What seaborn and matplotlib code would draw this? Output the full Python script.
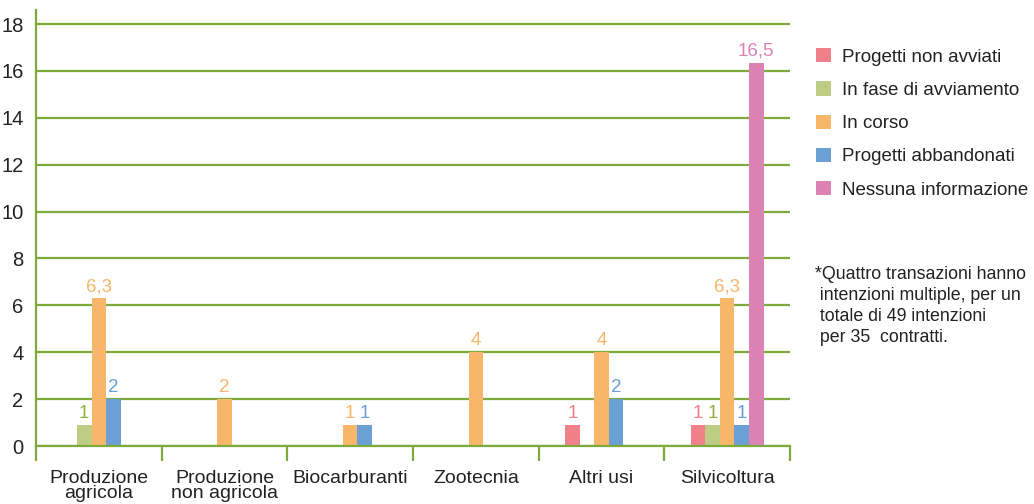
import matplotlib
matplotlib.use("Agg")
import matplotlib.pyplot as plt
import seaborn as sns
import pandas as pd
import numpy as np
from matplotlib.patches import Patch

# ---------------- data ----------------
categories = ["Produzione\nagricola", "Produzione\nnon agricola", "Biocarburanti",
              "Zootecnia", "Altri usi", "Silvicoltura"]
series = ["Progetti non avviati", "In fase di avviamento", "In corso",
          "Progetti abbandonati", "Nessuna informazione"]

# bar heights as drawn in the picture
non_avviati = [0, 0, 0, 0, 0.9, 0.9]
fase_avviamento = [0.9, 0, 0, 0, 0, 0.9]
in_corso = [6.3, 2, 0.9, 4, 4, 6.3]
abbandonati = [2, 0, 0.9, 0, 2, 0.9]
nessuna_info = [0, 0, 0, 0, 0, 16.35]

# printed value labels
lbl_non_avviati = ["", "", "", "", "1", "1"]
lbl_fase_avviamento = ["1", "", "", "", "", "1"]
lbl_in_corso = ["6,3", "2", "1", "4", "4", "6,3"]
lbl_abbandonati = ["2", "", "1", "", "2", "1"]
lbl_nessuna_info = ["", "", "", "", "", "16,5"]

y_ticks = [0, 2, 4, 6, 8, 10, 12, 14, 16, 18]

footnote = ("*Quattro transazioni hanno\n intenzioni multiple, per un\n"
            " totale di 49 intenzioni\n per 35  contratti.")

# ---------------- style ----------------
bar_colors = ["#f0818b", "#bfcc83", "#f8b66b", "#6aa0d3", "#dc83b6"]
label_colors = ["#f0818b", "#8db33f", "#f8b66b", "#6aa0d3", "#dc83b6"]
grid_green = "#7daa3a"
text_col = "#222222"

sns.set_theme(style="white")
plt.rcParams["font.family"] = ["Liberation Sans", "DejaVu Sans"]

values = [non_avviati, fase_avviamento, in_corso, abbandonati, nessuna_info]
labels = [lbl_non_avviati, lbl_fase_avviamento, lbl_in_corso, lbl_abbandonati, lbl_nessuna_info]

rows = []
for s, vals in zip(series, values):
    for c, v in zip(categories, vals):
        rows.append({"categoria": c, "serie": s, "valore": v})
df = pd.DataFrame(rows)

fig = plt.figure(figsize=(10.34, 5.04), dpi=100)
ax = fig.add_axes([36 / 1034, 58 / 504, (790 - 36) / 1034, (446 - 10) / 504])

sns.barplot(data=df, x="categoria", y="valore", hue="serie", order=categories,
            hue_order=series, palette=bar_colors, width=0.58, saturation=1,
            edgecolor="none", linewidth=0, legend=False, ax=ax)

for cont, lbls, col in zip(ax.containers, labels, label_colors):
    ax.bar_label(cont, labels=lbls, padding=2, color=col, fontsize=13.5)

ax.set_xlim(-0.5, 5.5)
ax.set_ylim(0, 18.6)
ax.set_xlabel("")
ax.set_ylabel("")

ax.set_yticks(y_ticks)
ax.set_yticklabels([str(t) for t in y_ticks])
ax.yaxis.grid(True, color=grid_green, lw=1.6)
ax.set_axisbelow(True)
ax.tick_params(axis="y", length=0, pad=9, labelsize=14.5, labelcolor=text_col)

ax.set_xticks(np.arange(-0.5, 6.0, 1.0))
ax.set_xticklabels([""] * 7)
ax.set_xticks(np.arange(6), minor=True)
ax.set_xticklabels(categories, minor=True, fontsize=14, color=text_col, linespacing=0.9)
ax.tick_params(axis="x", which="major", bottom=True, length=10.5, width=1.6,
               color=grid_green, direction="out")
ax.tick_params(axis="x", which="minor", bottom=True, length=0, pad=17)

for side in ["top", "right"]:
    ax.spines[side].set_visible(False)
for side in ["left", "bottom"]:
    ax.spines[side].set_color(grid_green)
    ax.spines[side].set_linewidth(1.6)

handles = [Patch(facecolor=c, edgecolor="none") for c in bar_colors]
fig.legend(handles, series, loc="upper left", bbox_to_anchor=(816 / 1034, 1 - 48 / 504),
           frameon=False, fontsize=13.5, handlelength=0.8, handleheight=0.8,
           handletextpad=0.6, labelspacing=0.83, borderaxespad=0, borderpad=0,
           labelcolor=text_col)

fig.text(815 / 1034, 1 - 266 / 504, footnote, va="top", ha="left", fontsize=12.8,
         linespacing=1.3, color=text_col)

fig.savefig("out.png", dpi=100)
